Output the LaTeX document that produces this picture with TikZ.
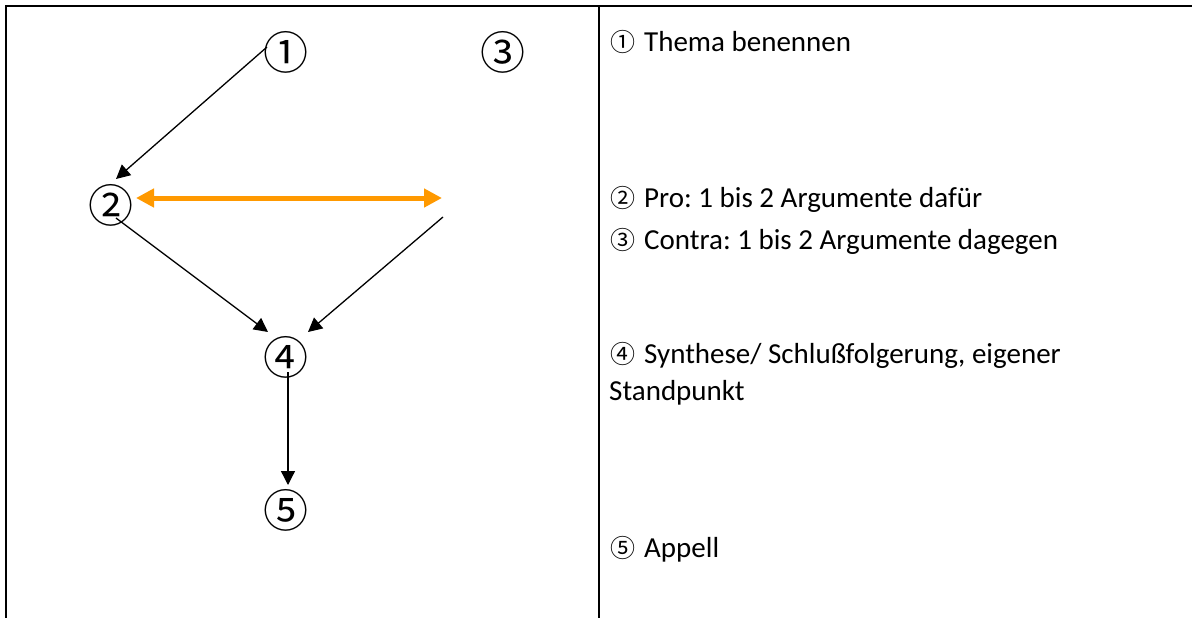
\documentclass[tikz,border=0pt]{standalone}
\usepackage{fontspec}
\setmainfont{Carlito}
\newfontfamily\circfont{Noto Sans CJK JP}
\usetikzlibrary{arrows.meta}
\definecolor{arroworange}{RGB}{255,153,0}
\frenchspacing
\tikzset{
  bigdigit/.style={inner sep=0pt, font=\circfont\fontsize{45}{45}\selectfont},
  legend/.style={anchor=base west, inner sep=0pt, font=\fontsize{29}{34}\selectfont},
  flow/.style={line width=1.3pt, -{Triangle[length=14pt, width=14pt]}},
  swap/.style={line width=5pt, arroworange, {Triangle[length=18pt, width=18pt]}-{Triangle[length=18pt, width=18pt]}},
  rule/.style={line width=2pt},
}
\newcommand{\cn}[1]{{\circfont\fontsize{25}{25}\selectfont #1}\hspace{9pt}}
\begin{document}
\begin{tikzpicture}[x=1pt, y=-1pt]
  \useasboundingbox (0,0) rectangle (1192,618);

  % table rules
  \draw[rule] (6,618) -- (6,6) -- (1192,6);
  \draw[rule] (599,6) -- (599,618);

  % structure of the argument
  \node[bigdigit] (n1) at (286,52) {①};
  \node[bigdigit] (n2) at (111,205) {②};
  \node[bigdigit] (n3) at (503,52) {③};
  \node[bigdigit] (n4) at (286,357) {④};
  \node[bigdigit] (n5) at (286,510) {⑤};

  \coordinate (p1s) at (267,47);
  \coordinate (p2e) at (116,179);
  \coordinate (p2s) at (116,218);
  \coordinate (p4l) at (268,332);
  \coordinate (p3s) at (443,217);
  \coordinate (p4r) at (308,332);
  \coordinate (p4s) at (288,372);
  \coordinate (p5e) at (288,485);
  \coordinate (o2) at (136,198);
  \coordinate (o3) at (442,198);

  \draw[flow] (p1s) -- (p2e);
  \draw[flow] (p2s) -- (p4l);
  \draw[flow] (p3s) -- (p4r);
  \draw[flow] (p4s) -- (p5e);
  \draw[swap] (o2) -- (o3);

  % legend
  \node[legend] (t1) at (610,52) {\cn{①}Thema benennen};
  \node[legend] (t2) at (610,207) {\cn{②}Pro: 1 bis 2 Argumente dafür};
  \node[legend] (t3) at (610,249) {\cn{③}Contra: 1 bis 2 Argumente dagegen};
  \node[legend] (t4) at (610,363) {\cn{④}Synthese/ Schlußfolgerung, eigener};
  \node[legend] (t4b) at (609,400) {Standpunkt};
  \node[legend] (t5) at (610,557) {\cn{⑤}Appell};
\end{tikzpicture}
\end{document}
